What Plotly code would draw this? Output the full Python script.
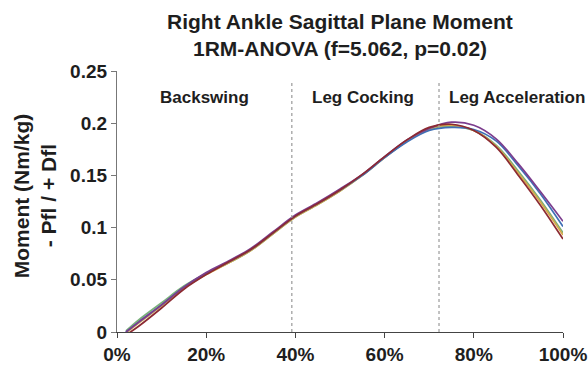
import plotly.graph_objects as go

# Percent of swing cycle at which each curve is sampled
cycle_pct = [2, 5, 10, 15, 20, 25, 30, 35, 40, 45, 50, 55, 60, 65, 70, 75, 80, 85, 90, 95, 100]

# Ankle sagittal plane moment (Nm/kg), one series per condition
moment_purple = [0.000, 0.010, 0.026, 0.043, 0.057, 0.068, 0.080, 0.096, 0.112, 0.124, 0.137, 0.151, 0.168, 0.184, 0.195, 0.201, 0.198, 0.185, 0.161, 0.134, 0.106]
moment_blue   = [0.000, 0.010, 0.026, 0.043, 0.056, 0.067, 0.079, 0.095, 0.111, 0.123, 0.136, 0.150, 0.167, 0.182, 0.193, 0.196, 0.194, 0.183, 0.159, 0.132, 0.101]
moment_green  = [0.001, 0.012, 0.028, 0.044, 0.056, 0.066, 0.078, 0.094, 0.110, 0.122, 0.135, 0.150, 0.167, 0.183, 0.194, 0.197, 0.193, 0.179, 0.154, 0.126, 0.095]
moment_orange = [-0.001, 0.009, 0.025, 0.042, 0.055, 0.066, 0.078, 0.094, 0.110, 0.122, 0.135, 0.150, 0.167, 0.183, 0.195, 0.198, 0.193, 0.178, 0.152, 0.124, 0.093]
moment_red    = [-0.003, 0.006, 0.023, 0.041, 0.055, 0.067, 0.079, 0.095, 0.111, 0.123, 0.136, 0.151, 0.168, 0.184, 0.196, 0.199, 0.193, 0.177, 0.150, 0.121, 0.089]

series = [
    (moment_green, "#79b07a"),
    (moment_orange, "#d6a84a"),
    (moment_blue, "#3f6fb6"),
    (moment_purple, "#7b3d8e"),
    (moment_red, "#8c2a32"),
]

# Phase boundaries (% of cycle) and phase names
phase_bounds = [39.2, 72.2]
phase_names = ["Backswing", "Leg Cocking", "Leg Acceleration"]
phase_label_x = [9.2, 43.3, 74.0]

x_ticks = [0, 20, 40, 60, 80, 100]
x_tick_text = ["0%", "20%", "40%", "60%", "80%", "100%"]
y_ticks = [0, 0.05, 0.1, 0.15, 0.2, 0.25]
y_tick_text = ["0", "0.05", "0.1", "0.15", "0.2", "0.25"]

title_lines = ["Right Ankle Sagittal Plane Moment", "1RM-ANOVA (f=5.062, p=0.02)"]
y_label_lines = ["Moment (Nm/kg)", "- Pfl / + Dfl"]

FONT = "Liberation Sans, Arial, sans-serif"
INK = "#1e1e1e"

fig = go.Figure()
for values, color in series:
    fig.add_trace(go.Scatter(
        x=cycle_pct, y=values, mode="lines",
        line=dict(color=color, width=1.7, shape="spline", smoothing=1.0),
        showlegend=False, hoverinfo="skip",
    ))

for xb in phase_bounds:
    fig.add_shape(type="line", xref="x", yref="y", x0=xb, x1=xb, y0=0, y1=0.24,
                  line=dict(color="#9a9a9a", width=1.2, dash="dot"))

for name, lx in zip(phase_names, phase_label_x):
    fig.add_annotation(x=lx, y=0.225, xref="x", yref="y", text=f"<b>{name}</b>",
                       showarrow=False, xanchor="left", yanchor="middle",
                       font=dict(family=FONT, size=17, color=INK))

# Two-line bold title above the plot area
for line, py in zip(title_lines, [1.188, 1.088]):
    fig.add_annotation(x=0.5, y=py, xref="paper", yref="paper", text=f"<b>{line}</b>",
                       showarrow=False, xanchor="center", yanchor="middle",
                       font=dict(family=FONT, size=21, color=INK))

# Two-line rotated y-axis label
for line, px in zip(y_label_lines, [21, 48]):
    fig.add_annotation(x=(px - 117) / 446, y=0.52, xref="paper", yref="paper",
                       text=f"<b>{line}</b>", textangle=-90, showarrow=False,
                       xanchor="center", yanchor="middle",
                       font=dict(family=FONT, size=21, color=INK))

fig.update_layout(
    width=588, height=372,
    margin=dict(l=117, r=25, t=71, b=40, autoexpand=False),
    paper_bgcolor="white", plot_bgcolor="white",
    font=dict(family=FONT, color=INK),
)

fig.update_xaxes(
    range=[0, 100], tickvals=x_ticks, ticktext=x_tick_text, automargin=False,
    showgrid=False, zeroline=False, showline=True, linecolor="#444", linewidth=1.3,
    ticks="outside", ticklen=5, tickcolor="#444",
    tickfont=dict(family=FONT, size=19, color=INK, weight="bold"),
)
fig.update_yaxes(
    range=[0, 0.25], tickvals=y_ticks, ticktext=y_tick_text, automargin=False,
    showgrid=False, zeroline=False, showline=True, linecolor="#777", linewidth=1.3,
    ticks="outside", ticklen=5, tickcolor="#777",
    tickfont=dict(family=FONT, size=19, color=INK, weight="bold"),
)

fig.write_html("out.html")
